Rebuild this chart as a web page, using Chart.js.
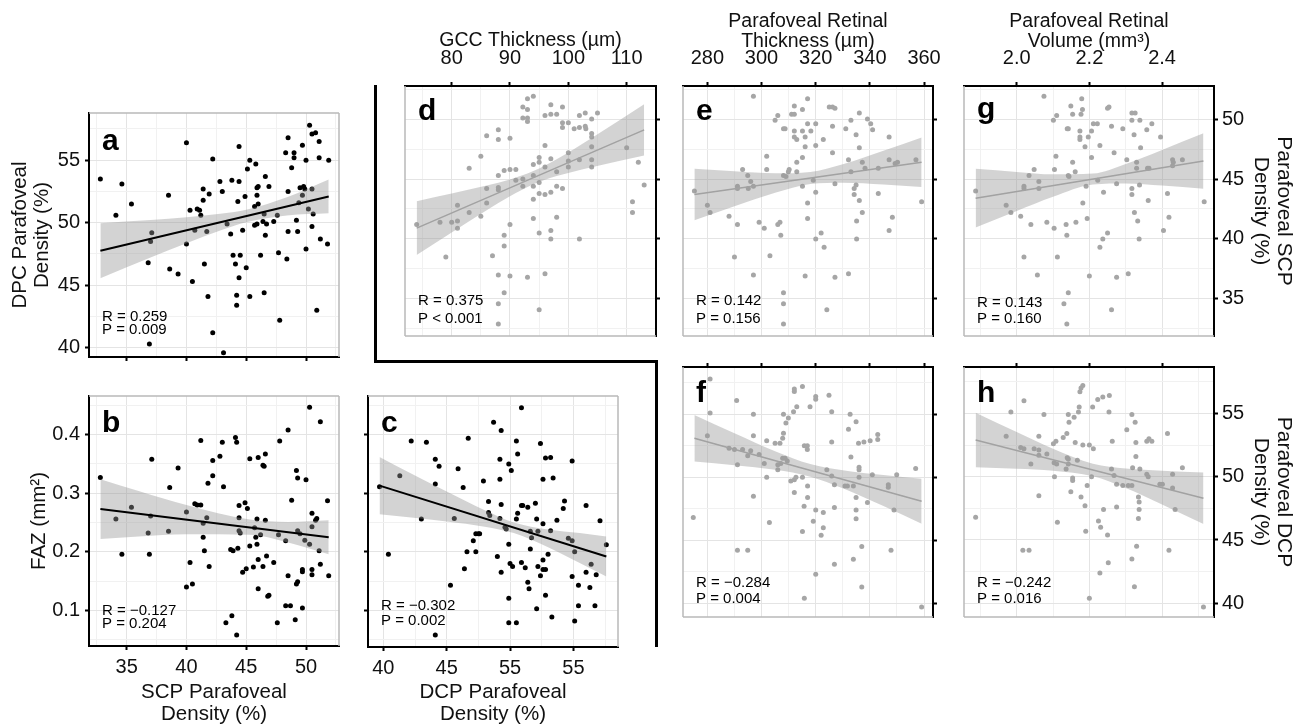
<!DOCTYPE html>
<html lang="en">
<head>
<meta charset="UTF-8">
<title>OCTA correlations</title>
<script src="https://cdn.jsdelivr.net/npm/chart.js"></script>
<style>
  body { margin: 0; background: #fff; }
  #fig { position: relative; width: 1304px; height: 727px; overflow: hidden; background: #fff; }
  #fig canvas { position: absolute; }
  .rule { position: absolute; background: #000; }
</style>
</head>
<body>
<div id="fig">
  <div class="rule" style="left:374px;top:85px;width:3px;height:278px"></div>
  <div class="rule" style="left:374px;top:360px;width:284px;height:3px"></div>
  <div class="rule" style="left:655px;top:360px;width:3px;height:287px"></div>
</div>
<script>
const FONT = "'Liberation Sans', Arial, sans-serif";
Chart.defaults.font.family = FONT;
Chart.defaults.color = '#000';

// ---- tick values / labels ----
const scpTicks = [35, 40, 45, 50];
const scpTickLabels = ['35', '40', '45', '50'];
const dcpTicks = [40, 45, 50, 55];
const dcpTickLabels = ['40', '45', '50', '55'];
const dcpXTickLabels = ['40', '45', '55', '55'];
const fazTicks = [0.1, 0.2, 0.3, 0.4];
const fazTickLabels = ['0.1', '0.2', '0.3', '0.4'];
const gccTicks = [80, 90, 100, 110];
const gccTickLabels = ['80', '90', '100', '110'];
const thickTicks = [280, 300, 320, 340, 360];
const thickTickLabels = ['280', '300', '320', '340', '360'];
const volTicks = [2.0, 2.2, 2.4];
const volTickLabels = ['2.0', '2.2', '2.4'];

// ---- a: SCP vs DCP density ----
const scpDcpPts = [[32.8,53.5],[34.1,50.6],[34.6,53.1],[35.4,51.5],[36.9,40.3],[36.8,46.8],[37.1,49.2],[37.0,48.5],[38.5,52.2],[38.6,46.3],
[39.3,45.9],[40.0,56.4],[40.0,48.3],[40.3,51.0],[40.5,45.3],[40.7,49.4],[40.9,51.1],[41.1,51.0],[41.2,50.6],[41.4,52.7],
[41.4,51.8],[41.5,46.7],[41.7,49.3],[41.8,44.1],[41.9,52.3],[42.2,55.1],[42.2,41.2],[42.8,53.3],[43.0,52.5],[43.1,39.6],
[43.4,49.9],[43.7,49.1],[43.8,53.4],[43.9,47.4],[44.1,46.7],[44.2,44.2],[44.2,43.4],[44.3,51.7],[44.4,56.1],[44.4,53.3],
[44.4,45.6],[44.5,47.4],[44.7,49.4],[44.9,52.1],[45.0,46.4],[45.1,54.3],[45.3,55.0],[45.3,44.1],[45.8,54.7],[45.7,51.3],
[45.9,52.2],[45.9,52.8],[46.0,52.9],[46.0,51.5],[45.7,49.8],[45.9,49.9],[46.2,47.4],[46.4,50.1],[46.5,50.7],[46.6,53.7],
[46.5,44.4],[46.6,49.0],[46.7,49.9],[46.9,52.9],[47.3,50.1],[47.6,50.6],[47.7,47.6],[47.8,42.2],[48.3,55.6],[48.4,47.1],
[48.5,56.8],[48.5,52.5],[48.5,49.3],[48.8,54.4],[49.0,55.6],[49.0,55.2],[49.2,50.2],[49.3,49.3],[49.4,51.6],[49.5,52.8],
[49.7,52.2],[49.7,56.2],[49.8,52.9],[49.9,52.7],[50.0,55.0],[50.0,47.9],[50.2,51.1],[50.3,57.8],[50.5,57.1],[50.5,52.7],
[50.5,49.7],[50.6,50.7],[50.8,57.2],[50.9,43.0],[51.1,56.5],[51.1,55.2],[51.2,48.7],[51.8,48.3],[51.9,55.0]];
const fitA = [[32.8, 47.76], [51.9, 52.10]];
const bandAx = [32.8, 37, 40, 43, 45, 48.4, 51.9];
const bandAhi = [49.96, 50.21, 50.44, 50.73, 51.03, 52.03, 53.45];
const bandAlo = [45.56, 47.21, 48.36, 49.43, 50.03, 50.57, 50.75];
const statA = ['R = 0.259', 'P = 0.009'];

// ---- b: SCP density vs FAZ ----
const scpFazPts = [[32.8,0.327],[34.1,0.256],[34.6,0.196],[35.4,0.276],[37.1,0.358],[37.0,0.261],[36.8,0.232],[36.9,0.196],[38.6,0.310],[38.5,0.235],
[39.3,0.343],[40.0,0.268],[40.0,0.140],[40.3,0.182],[40.5,0.145],[40.7,0.282],[40.9,0.280],[41.2,0.280],[41.2,0.390],[41.4,0.249],
[41.4,0.225],[41.5,0.202],[41.7,0.258],[41.8,0.317],[41.9,0.175],[42.2,0.356],[42.2,0.330],[42.8,0.363],[43.0,0.387],[43.1,0.311],
[43.3,0.079],[43.8,0.091],[43.7,0.204],[43.9,0.202],[44.1,0.395],[44.2,0.387],[44.2,0.058],[44.3,0.206],[44.4,0.279],[44.4,0.258],
[44.4,0.236],[44.5,0.232],[44.7,0.165],[44.9,0.284],[45.0,0.171],[45.1,0.274],[45.3,0.359],[45.3,0.210],[45.6,0.174],[45.7,0.241],
[45.8,0.225],[45.9,0.256],[45.9,0.213],[46.0,0.187],[46.0,0.361],[46.0,0.137],[46.2,0.229],[46.4,0.348],[46.5,0.346],[46.4,0.175],
[46.6,0.367],[46.6,0.254],[46.7,0.193],[46.8,0.124],[46.9,0.126],[47.3,0.182],[47.6,0.079],[47.7,0.229],[47.8,0.389],[48.3,0.219],
[48.5,0.408],[48.5,0.159],[48.3,0.108],[48.7,0.108],[48.8,0.288],[49.1,0.084],[49.2,0.339],[49.2,0.145],[49.3,0.326],[49.3,0.149],
[49.3,0.236],[49.5,0.231],[49.7,0.104],[49.7,0.170],[49.7,0.166],[49.9,0.220],[50.0,0.323],[50.3,0.447],[50.3,0.213],[50.5,0.243],
[50.5,0.266],[50.5,0.170],[50.5,0.161],[50.8,0.254],[50.9,0.257],[51.1,0.202],[51.2,0.422],[51.2,0.179],[51.8,0.287],[51.9,0.159]];
const fitB = [[32.8, 0.273], [51.9, 0.225]];
const bandBx = [32.8, 36, 40, 45.3, 48.5, 51.9];
const bandBhi = [0.324, 0.304, 0.280, 0.255, 0.251, 0.254];
const bandBlo = [0.222, 0.226, 0.230, 0.229, 0.216, 0.196];
const statB = ['R = \u22120.127', 'P = 0.204'];

// ---- c: DCP density vs FAZ ----
const dcpFazPts = [[39.7,0.311],[40.4,0.196],[41.3,0.330],[42.2,0.389],[43.0,0.256],[43.4,0.387],[44.1,0.358],[44.1,0.316],[44.1,0.058],[44.4,0.346],
[45.3,0.143],[45.6,0.257],[45.9,0.342],[46.3,0.310],[46.4,0.171],[46.6,0.200],[46.7,0.394],[47.1,0.219],[47.3,0.200],[47.3,0.231],
[47.5,0.231],[47.6,0.231],[47.9,0.321],[48.3,0.286],[48.3,0.267],[48.4,0.262],[48.7,0.421],[49.0,0.192],[49.2,0.358],[49.2,0.324],
[49.2,0.257],[49.3,0.407],[49.3,0.281],[49.3,0.165],[49.6,0.242],[49.7,0.239],[49.9,0.350],[49.9,0.213],[49.9,0.121],[49.9,0.079],
[50.0,0.180],[50.1,0.339],[50.2,0.175],[50.5,0.389],[50.5,0.256],[50.5,0.079],[50.6,0.367],[50.6,0.266],[50.9,0.446],[50.9,0.279],
[51.0,0.279],[50.9,0.182],[51.2,0.173],[51.4,0.276],[51.4,0.148],[51.5,0.137],[51.6,0.235],[51.6,0.205],[51.7,0.224],[52.0,0.283],
[52.1,0.256],[52.1,0.103],[52.2,0.235],[52.2,0.175],[52.4,0.385],[52.4,0.159],[52.6,0.248],[52.6,0.324],[52.6,0.186],[52.6,0.170],
[52.8,0.170],[52.8,0.126],[52.8,0.360],[53.0,0.196],[53.2,0.361],[53.2,0.236],[53.3,0.089],[53.4,0.326],[53.7,0.254],[54.2,0.274],
[54.3,0.287],[54.6,0.223],[54.9,0.219],[54.9,0.158],[54.9,0.355],[55.1,0.200],[55.1,0.082],[55.4,0.143],[55.4,0.108],[56.0,0.279],
[56.0,0.165],[56.3,0.139],[56.4,0.179],[56.7,0.108],[56.8,0.161],[57.1,0.253],[57.6,0.212]];
const fitC = [[39.7, 0.313], [57.6, 0.192]];
const bandCx = [39.7, 42, 45, 48, 50.3, 53, 55.5, 57.6];
const bandChi = [0.362, 0.336, 0.303, 0.271, 0.250, 0.238, 0.232, 0.226];
const bandClo = [0.264, 0.259, 0.252, 0.243, 0.232, 0.208, 0.181, 0.158];
const statC = ['R = \u22120.302', 'P = 0.002'];

// ---- d: GCC thickness vs SCP density ----
const gccScpPts = [[74.0,41.2],[78.0,41.4],[79.0,38.5],[80.0,41.4],[81.0,41.5],[81.0,40.9],[81.0,42.8],[83.0,45.9],[83.0,42.2],[85.0,46.9],
[85.0,41.9],[86.0,48.6],[86.0,44.2],[86.0,43.0],[87.0,38.6],[88.0,49.1],[88.0,48.3],[88.0,45.3],[88.0,44.3],[88.0,44.1],
[88.0,37.0],[88.0,34.6],[88.0,32.9],[89.0,45.7],[89.0,40.3],[89.0,39.4],[89.0,35.5],[90.0,48.4],[90.0,45.8],[90.0,41.2],
[90.0,36.9],[91.0,45.8],[91.0,44.9],[92.2,51.0],[92.2,50.1],[92.2,45.0],[92.2,44.4],[93.0,51.7],[93.0,50.8],[93.0,50.1],
[93.0,49.8],[93.0,36.8],[94.0,51.9],[94.0,46.2],[94.0,45.3],[94.0,44.4],[94.0,43.3],[94.0,41.7],[95.0,46.8],[95.0,46.4],
[95.0,44.7],[95.0,43.8],[95.0,40.5],[95.0,34.1],[96.0,50.3],[96.0,47.8],[96.0,46.0],[96.0,43.7],[96.0,37.1],[97.0,51.2],
[97.0,50.4],[97.0,46.7],[97.0,43.9],[97.0,40.7],[97.0,40.0],[98.0,50.4],[98.0,45.6],[98.0,44.4],[98.0,41.8],[99.0,51.0],
[99.0,49.7],[99.0,49.3],[99.0,44.2],[100.0,49.7],[100.0,47.2],[100.0,46.5],[100.0,46.0],[101.0,49.2],[101.9,50.3],[101.9,49.3],
[101.9,46.6],[101.9,40.0],[102.9,50.5],[102.9,49.4],[103.0,49.2],[104.0,50.0],[104.0,48.8],[104.0,48.5],[104.0,47.7],[104.0,46.6],
[104.0,46.0],[105.0,50.5],[110.0,47.6],[111.0,43.1],[111.0,42.2],[112.0,46.4],[113.0,44.5]];
const fitD = [[74.0, 40.9], [113.0, 49.1]];
const bandDx = [74, 80, 86, 90, 94, 98, 104, 113];
const bandDhi = [43.15, 43.78, 44.45, 44.96, 45.66, 46.65, 48.43, 51.24];
const bandDlo = [38.65, 40.54, 42.39, 43.56, 44.56, 45.25, 45.99, 46.96];
const statD = ['R = 0.375', 'P < 0.001'];

// ---- e: retinal thickness vs SCP density ----
const thickScpPts = [[275.2,44.0],[280.0,42.8],[281.0,42.2],[288.0,41.9],[290.0,38.5],[291.1,44.4],[291.1,44.2],[291.1,41.2],[293.0,45.8],[294.9,45.3],
[295.1,44.2],[296.0,44.8],[297.0,51.9],[297.0,44.4],[297.0,37.0],[299.1,41.4],[301.0,40.9],[301.9,46.9],[301.9,45.8],[303.1,38.6],
[305.0,49.9],[306.0,50.3],[306.0,41.2],[306.8,41.4],[307.1,40.3],[308.1,49.2],[308.7,49.2],[308.1,45.3],[309.0,45.2],[308.1,35.5],
[308.1,34.6],[308.1,32.9],[309.9,45.6],[310.2,45.8],[311.1,50.4],[312.1,50.4],[312.1,51.1],[312.1,49.0],[312.1,48.5],[313.0,48.3],
[313.0,46.4],[313.0,45.6],[315.1,50.8],[315.1,49.0],[315.1,46.8],[315.1,44.4],[316.1,47.7],[316.1,48.5],[316.1,36.9],[317.0,51.7],
[317.0,49.6],[317.0,43.0],[317.0,41.7],[318.2,49.0],[319.1,44.9],[320.0,49.6],[320.0,47.8],[320.0,43.9],[320.0,40.0],[322.0,40.5],
[322.8,48.3],[323.1,39.3],[324.1,34.1],[325.0,51.0],[326.2,51.0],[327.1,50.9],[326.2,49.4],[326.2,47.2],[327.1,44.6],[327.1,36.8],
[331.1,49.2],[332.1,46.6],[332.1,37.1],[333.0,49.9],[333.0,45.6],[334.2,44.2],[334.2,43.7],[334.9,48.7],[334.9,44.5],[335.1,41.5],
[335.1,40.0],[336.1,50.5],[336.1,47.6],[336.1,43.2],[337.2,46.4],[337.2,42.2],[338.2,45.9],[339.1,50.0],[340.3,49.6],[341.0,49.1],
[343.1,45.9],[343.1,43.8],[347.1,48.5],[347.1,46.6],[347.1,40.7],[348.3,41.8],[349.3,46.3],[350.2,46.4],[357.0,46.6],[359.1,43.1]];
const fitE = [[275.2, 43.7], [359.1, 46.4]];
const bandEx = [275.2, 290, 305, 318, 330, 345, 359.1];
const bandEhi = [45.85, 45.64, 45.47, 45.58, 46.23, 47.36, 48.47];
const bandElo = [41.55, 42.72, 43.85, 44.58, 44.69, 44.54, 44.33];
const statE = ['R = 0.142', 'P = 0.156'];

// ---- g: retinal volume vs SCP density ----
const volScpPts = [[1.887,44.0],[1.971,42.8],[1.984,42.2],[2.011,41.9],[2.020,38.5],[2.020,44.4],[2.020,44.2],[2.039,41.2],[2.048,45.8],[2.034,45.3],
[2.061,44.2],[2.061,44.8],[2.075,51.9],[2.057,37.0],[2.083,41.4],[2.103,40.9],[2.108,46.9],[2.104,45.8],[2.112,38.5],[2.101,49.9],
[2.110,50.3],[2.136,41.2],[2.138,40.3],[2.139,49.2],[2.142,49.2],[2.142,45.3],[2.144,45.2],[2.130,34.6],[2.142,35.5],[2.138,32.9],
[2.154,46.4],[2.161,45.6],[2.149,51.1],[2.154,50.4],[2.163,41.4],[2.174,49.0],[2.174,48.5],[2.174,48.3],[2.177,50.4],[2.181,50.8],
[2.179,51.7],[2.182,43.0],[2.188,47.7],[2.191,44.4],[2.194,41.7],[2.200,36.9],[2.197,48.5],[2.206,49.0],[2.206,46.8],[2.211,49.6],
[2.222,49.6],[2.223,44.9],[2.229,47.8],[2.229,39.3],[2.237,40.0],[2.239,43.9],[2.250,40.5],[2.250,50.9],[2.254,51.0],[2.261,49.4],
[2.261,34.1],[2.268,47.2],[2.275,44.6],[2.275,36.8],[2.292,49.2],[2.303,46.6],[2.307,37.1],[2.317,50.5],[2.317,49.9],[2.317,44.2],
[2.317,43.7],[2.323,48.7],[2.324,42.2],[2.326,50.5],[2.330,46.4],[2.330,45.9],[2.333,41.5],[2.337,40.0],[2.338,44.5],[2.339,49.9],
[2.341,47.6],[2.358,49.1],[2.360,45.9],[2.362,43.2],[2.364,45.9],[2.372,49.6],[2.396,48.5],[2.404,40.7],[2.415,43.8],[2.419,41.8],
[2.429,46.6],[2.431,46.4],[2.429,46.1],[2.456,46.6],[2.516,43.1]];
const fitG = [[1.887, 43.4], [2.514, 46.5]];
const bandGx = [1.887, 2.0, 2.1, 2.21, 2.3, 2.4, 2.514];
const bandGhi = [45.85, 45.59, 45.39, 45.45, 46.25, 47.43, 48.81];
const bandGlo = [40.95, 42.33, 43.52, 44.55, 44.63, 44.45, 44.19];
const statG = ['R = 0.143', 'P = 0.160'];

// ---- f: retinal thickness vs DCP density ----
const thickDcpPts = [[274.8,46.8],[280.0,53.3],[281.0,57.8],[281.0,55.1],[288.0,52.3],[290.0,52.2],[290.8,56.1],[291.1,51.0],[291.1,44.2],[293.0,52.2],
[294.9,51.7],[294.9,44.2],[296.0,52.1],[297.0,55.0],[297.0,53.3],[297.0,48.5],[299.1,51.8],[301.0,51.1],[301.9,52.9],[301.9,50.0],
[302.9,46.4],[305.0,52.7],[306.0,51.0],[306.0,50.6],[306.8,52.7],[307.1,51.1],[307.8,53.1],[308.1,53.5],[308.1,55.0],[307.8,51.5],
[308.7,51.5],[309.0,54.3],[309.5,51.3],[309.9,54.7],[310.8,49.7],[311.8,55.2],[312.1,48.8],[312.1,56.8],[312.1,57.0],[312.1,49.8],
[312.7,50.0],[313.0,55.6],[315.1,57.2],[315.1,50.0],[315.1,45.7],[315.7,47.7],[315.8,52.5],[315.8,40.4],[316.9,52.5],[316.9,52.2],
[317.0,49.3],[317.0,48.4],[317.9,55.6],[319.1,46.5],[320.0,56.4],[320.0,56.2],[320.0,47.4],[320.0,42.3],[322.0,45.4],[322.8,47.2],
[322.8,46.0],[324.1,50.6],[324.9,56.5],[325.9,55.2],[325.9,52.8],[325.9,50.1],[326.9,49.4],[326.9,47.6],[326.9,43.1],[330.8,49.3],
[331.7,49.3],[332.1,53.8],[332.7,55.0],[333.0,51.6],[333.9,49.3],[333.9,43.5],[334.9,54.4],[334.9,48.4],[334.9,47.4],[334.9,46.7],
[335.8,52.7],[336.0,50.8],[336.0,50.6],[336.0,50.0],[337.0,44.5],[337.0,41.3],[337.8,52.8],[339.1,48.0],[340.1,52.9],[340.9,50.2],
[342.9,53.4],[342.9,53.0],[346.8,49.4],[346.8,49.2],[347.8,44.2],[348.9,47.4],[349.9,50.2],[356.9,50.7],[359.1,39.7]];
const fitF = [[275.2, 53.1], [359.1, 48.1]];
const bandFx = [275.2, 290, 305, 318, 330, 345, 359.1];
const bandFhi = [54.95, 53.49, 52.07, 51.05, 50.55, 50.17, 49.88];
const bandFlo = [51.25, 50.95, 50.59, 50.05, 49.13, 47.71, 46.32];
const statF = ['R = \u22120.284', 'P = 0.004'];

// ---- h: retinal volume vs DCP density ----
const volDcpPts = [[1.887,46.8],[1.971,53.2],[1.984,55.1],[2.011,52.3],[2.020,56.0],[2.017,44.2],[2.034,44.2],[2.020,52.2],[2.039,51.0],[2.048,52.2],
[2.061,52.1],[2.061,48.5],[2.061,53.2],[2.061,51.7],[2.075,54.9],[2.083,51.8],[2.101,52.6],[2.104,50.0],[2.103,51.1],[2.108,52.8],
[2.110,51.0],[2.112,46.4],[2.128,53.1],[2.136,50.6],[2.138,53.4],[2.139,51.5],[2.142,54.9],[2.144,54.3],[2.142,51.4],[2.142,51.0],
[2.149,48.8],[2.154,49.9],[2.154,49.7],[2.158,54.7],[2.161,52.7],[2.167,51.3],[2.170,55.1],[2.172,55.5],[2.174,56.7],[2.177,57.0],
[2.182,57.2],[2.177,48.4],[2.182,52.5],[2.188,47.7],[2.190,45.7],[2.194,49.3],[2.200,52.5],[2.200,40.4],[2.206,50.0],[2.209,55.5],
[2.211,52.2],[2.223,56.1],[2.225,46.5],[2.231,46.0],[2.237,56.3],[2.239,47.4],[2.250,45.4],[2.252,43.2],[2.254,55.1],[2.255,56.4],
[2.229,42.4],[2.261,50.6],[2.263,52.8],[2.268,50.1],[2.275,49.4],[2.275,47.6],[2.292,49.3],[2.303,53.7],[2.307,49.3],[2.317,49.3],
[2.317,54.9],[2.317,43.5],[2.319,50.7],[2.326,54.3],[2.328,52.7],[2.328,51.6],[2.330,44.5],[2.324,41.3],[2.335,48.4],[2.337,48.0],
[2.337,47.4],[2.335,46.7],[2.339,50.6],[2.358,52.8],[2.358,50.2],[2.362,50.0],[2.364,53.0],[2.372,52.8],[2.394,49.4],[2.401,49.4],
[2.415,53.4],[2.419,44.2],[2.429,50.2],[2.429,49.1],[2.436,47.4],[2.456,50.7],[2.514,39.7]];
const fitH = [[1.887, 52.9], [2.514, 48.3]];
const bandHx = [1.887, 2.0, 2.1, 2.21, 2.3, 2.4, 2.514];
const bandHhi = [55.05, 53.52, 52.21, 51.03, 50.64, 50.47, 50.33];
const bandHlo = [50.75, 50.62, 50.47, 50.03, 49.10, 47.81, 46.27];
const statH = ['R = \u22120.242', 'P = 0.016'];

// gray frame on the sides without an axis line, plus panel letter and R/P text
const decor = {
  id: 'decor',
  beforeDatasetsDraw(chart, args, o) {
    const { ctx, chartArea: c } = chart;
    ctx.save();
    ctx.strokeStyle = '#b9b9b9';
    ctx.lineWidth = 1.5;
    ctx.beginPath();
    if (o.gray.includes('top')) { ctx.moveTo(c.left, c.top); ctx.lineTo(c.right, c.top); }
    if (o.gray.includes('right')) { ctx.moveTo(c.right, c.top); ctx.lineTo(c.right, c.bottom); }
    if (o.gray.includes('left')) { ctx.moveTo(c.left, c.top); ctx.lineTo(c.left, c.bottom); }
    if (o.gray.includes('bottom')) { ctx.moveTo(c.left, c.bottom); ctx.lineTo(c.right, c.bottom); }
    ctx.stroke();
    ctx.restore();
  },
  afterDraw(chart, args, o) {
    const { ctx, chartArea: c } = chart;
    ctx.save();
    ctx.fillStyle = '#000';
    ctx.textAlign = 'left';
    ctx.textBaseline = 'alphabetic';
    ctx.font = 'bold 30px ' + FONT;
    ctx.fillText(o.letter, c.left + 13, c.top + o.letterY);
    ctx.font = '15px ' + FONT;
    ctx.fillText(o.stats[0], c.left + 13, c.bottom - o.statY[0]);
    ctx.fillText(o.stats[1], c.left + 13, c.bottom - o.statY[1]);
    ctx.restore();
  }
};

function axis(a, horizontal) {
  const half = (a.ticks[1] - a.ticks[0]) / 2;
  const lines = [];
  for (let k = Math.ceil(a.min / half - 1e-9); k * half <= a.max + 1e-9; k++) lines.push(+(k * half).toFixed(4));
  const isMajor = v => a.ticks.some(m => Math.abs(m - v) < 1e-6);
  return {
    type: 'linear', position: a.pos, min: a.min, max: a.max, bounds: 'data',
    afterBuildTicks: s => { s.ticks = lines.map(v => ({ value: v })); },
    afterFit: s => {
      if (horizontal) s.height = a.size; else s.width = a.size;
      s.paddingLeft = s.paddingRight = s.paddingTop = s.paddingBottom = 0;
    },
    grid: {
      color: c => (c.tick && isMajor(c.tick.value)) ? '#e4e4e4' : '#f1f1f1',
      tickColor: c => (c.tick && isMajor(c.tick.value)) ? '#000' : 'rgba(0,0,0,0)',
      lineWidth: 1, tickLength: 4, tickWidth: 2
    },
    border: { display: true, color: '#000', width: 2 },
    ticks: {
      display: !!a.labels, autoSkip: false, maxRotation: 0, minRotation: 0,
      padding: a.pad || 0, color: '#111', font: { size: 20 },
      callback: v => {
        if (!a.labels) return '';
        const i = a.ticks.findIndex(m => Math.abs(m - v) < 1e-6);
        return i < 0 ? '' : a.labels[i];
      }
    },
    title: a.title ? {
      display: true, text: a.title, color: '#111',
      font: { size: a.fs, lineHeight: a.lh + 'px' },
      padding: { top: a.tpad, bottom: a.tpad }
    } : { display: false }
  };
}

function makePanel(p) {
  const cv = document.createElement('canvas');
  cv.width = p.w;
  cv.height = p.h;
  cv.style.left = p.left + 'px';
  cv.style.top = p.top + 'px';
  document.getElementById('fig').appendChild(cv);

  const ink = p.dark ? '#000' : '#a6a6a6';
  return new Chart(cv, {
    type: 'scatter',
    data: {
      datasets: [
        { type: 'line', data: p.fit.map(q => ({ x: q[0], y: q[1] })), showLine: true,
          borderColor: p.dark ? '#000' : '#a2a2a2', borderWidth: p.dark ? 2 : 1.5,
          pointRadius: 0, fill: false, order: 0 },
        { type: 'line', data: p.bandX.map((x, i) => ({ x: x, y: p.bandHi[i] })), showLine: true,
          borderColor: 'rgba(0,0,0,0)', borderWidth: 0, pointRadius: 0,
          cubicInterpolationMode: 'monotone', fill: '+1', backgroundColor: 'rgba(150,150,150,0.42)', order: 1 },
        { type: 'line', data: p.bandX.map((x, i) => ({ x: x, y: p.bandLo[i] })), showLine: true,
          borderColor: 'rgba(0,0,0,0)', borderWidth: 0, pointRadius: 0,
          cubicInterpolationMode: 'monotone', fill: false, order: 1 },
        { data: p.pts.map(q => ({ x: q[0], y: q[1] })), pointRadius: 2.5,
          backgroundColor: ink, borderColor: ink, borderWidth: 0, order: 2 }
      ]
    },
    options: {
      responsive: false,
      animation: false,
      events: [],
      layout: { padding: p.pad },
      plugins: {
        legend: { display: false },
        tooltip: { enabled: false },
        decor: { gray: p.gray, letter: p.letter, letterY: p.letterY, stats: p.stats, statY: p.statY }
      },
      scales: { x: axis(p.x, true), y: axis(p.y, false) }
    },
    plugins: [decor]
  });
}

const padLB = { top: 0, right: 0, left: 4, bottom: 4 };
const padTR = { top: 4, right: 4, left: 0, bottom: 0 };

// a
makePanel({ left: 0, top: 109, w: 343, h: 254, pad: padTR, dark: true,
  pts: scpDcpPts, fit: fitA, bandX: bandAx, bandHi: bandAhi, bandLo: bandAlo,
  x: { min: 31.85, max: 52.76, pos: 'bottom', size: 6, ticks: scpTicks },
  y: { min: 39.25, max: 58.78, pos: 'left', size: 89, ticks: dcpTicks, labels: dcpTickLabels, pad: 5,
       title: ['DPC Parafoveal', 'Density (%)'], fs: 20.5, lh: 22, tpad: 9.5 },
  gray: ['top', 'right'], letter: 'a', letterY: 37, stats: statA, statY: [36, 23] });

// b
makePanel({ left: 0, top: 392, w: 343, h: 335, pad: padTR, dark: true,
  pts: scpFazPts, fit: fitB, bandX: bandBx, bandHi: bandBhi, bandLo: bandBlo,
  x: { min: 31.85, max: 52.76, pos: 'bottom', size: 81, ticks: scpTicks, labels: scpTickLabels, pad: 5,
       title: ['SCP Parafoveal', 'Density (%)'], fs: 20.5, lh: 22, tpad: 2 },
  y: { min: 0.0393, max: 0.466, pos: 'left', size: 89, ticks: fazTicks, labels: fazTickLabels, pad: 5,
       title: 'FAZ (mm\u00b2)', fs: 20.5, lh: 22, tpad: 28 },
  gray: ['top', 'right'], letter: 'b', letterY: 36, stats: statB, statY: [31, 18] });

// c
makePanel({ left: 362, top: 392, w: 260, h: 335, pad: padTR, dark: true,
  pts: dcpFazPts, fit: fitC, bandX: bandCx, bandHi: bandChi, bandLo: bandClo,
  x: { min: 38.79, max: 58.52, pos: 'bottom', size: 80, ticks: dcpTicks, labels: dcpXTickLabels, pad: 5,
       title: ['DCP Parafoveal', 'Density (%)'], fs: 20.5, lh: 22, tpad: 2 },
  y: { min: 0.0376, max: 0.466, pos: 'left', size: 6, ticks: fazTicks },
  gray: ['top', 'right'], letter: 'c', letterY: 36, stats: statC, statY: [37, 22] });

// d
makePanel({ left: 401, top: 0, w: 261, h: 340, pad: padLB, dark: false,
  pts: gccScpPts, fit: fitD, bandX: bandDx, bandHi: bandDhi, bandLo: bandDlo,
  x: { min: 72.0, max: 115.03, pos: 'top', size: 86, ticks: gccTicks, labels: gccTickLabels, pad: 12,
       title: 'GCC Thickness (\u00b5m)', fs: 19.5, lh: 19, tpad: 31 },
  y: { min: 31.9, max: 52.76, pos: 'right', size: 6, ticks: scpTicks },
  gray: ['left', 'bottom'], letter: 'd', letterY: 34, stats: statD, statY: [31, 13] });

// e (right axis box widened so the "360" label is not clipped)
makePanel({ left: 679, top: 0, w: 274, h: 340, pad: padLB, dark: false,
  pts: thickScpPts, fit: fitE, bandX: bandEx, bandHi: bandEhi, bandLo: bandElo,
  x: { min: 271.0, max: 363.3, pos: 'top', size: 86, ticks: thickTicks, labels: thickTickLabels, pad: 12,
       title: ['Parafoveal Retinal', 'Thickness (\u00b5m)'], fs: 19.5, lh: 20, tpad: 12 },
  y: { min: 31.9, max: 52.76, pos: 'right', size: 20, ticks: scpTicks },
  gray: ['left', 'bottom'], letter: 'e', letterY: 34, stats: statE, statY: [31, 13] });

// g
makePanel({ left: 960, top: 0, w: 344, h: 340, pad: padLB, dark: false,
  pts: volScpPts, fit: fitG, bandX: bandGx, bandHi: bandGhi, bandLo: bandGlo,
  x: { min: 1.855, max: 2.543, pos: 'top', size: 86, ticks: volTicks, labels: volTickLabels, pad: 12,
       title: ['Parafoveal Retinal', 'Volume (mm\u00b3)'], fs: 19.5, lh: 20, tpad: 12 },
  y: { min: 31.9, max: 52.76, pos: 'right', size: 90, ticks: scpTicks, labels: scpTickLabels, pad: 4,
       title: ['Parafoveal SCP', 'Density (%)'], fs: 21, lh: 23, tpad: 8.5 },
  gray: ['left', 'bottom'], letter: 'g', letterY: 32, stats: statG, statY: [29, 13] });

// f
makePanel({ left: 679, top: 361, w: 260, h: 260, pad: padLB, dark: false,
  pts: thickDcpPts, fit: fitF, bandX: bandFx, bandHi: bandFhi, bandLo: bandFlo,
  x: { min: 271.0, max: 363.3, pos: 'top', size: 6, ticks: thickTicks },
  y: { min: 38.91, max: 58.75, pos: 'right', size: 6, ticks: dcpTicks },
  gray: ['left', 'bottom'], letter: 'f', letterY: 35, stats: statF, statY: [30, 14] });

// h
makePanel({ left: 960, top: 361, w: 344, h: 260, pad: padLB, dark: false,
  pts: volDcpPts, fit: fitH, bandX: bandHx, bandHi: bandHhi, bandLo: bandHlo,
  x: { min: 1.855, max: 2.543, pos: 'top', size: 6, ticks: volTicks },
  y: { min: 38.92, max: 58.66, pos: 'right', size: 90, ticks: dcpTicks, labels: dcpTickLabels, pad: 4,
       title: ['Parafoveal DCP', 'Density (%)'], fs: 21, lh: 23, tpad: 8.5 },
  gray: ['left', 'bottom'], letter: 'h', letterY: 35, stats: statH, statY: [30, 14] });
</script>
</body>
</html>
